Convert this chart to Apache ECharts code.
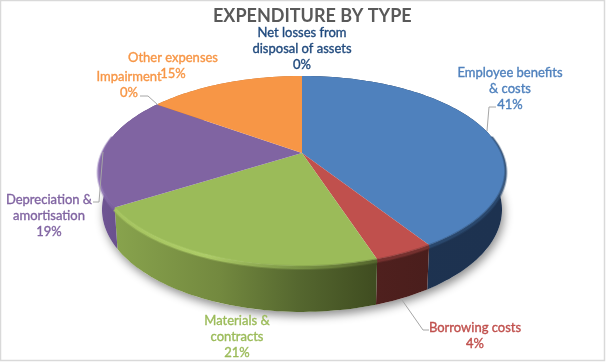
<!DOCTYPE html>
<html>
<head>
<meta charset="utf-8">
<title>Expenditure by type</title>
<style>
  html, body { margin: 0; padding: 0; background: #fff; }
  #chart { width: 606px; height: 362px; }
</style>
<script src="https://cdn.jsdelivr.net/npm/echarts@6/dist/echarts.min.js"></script>
</head>
<body>
<div id="chart"></div>
<script>
// data, clockwise from 12 o'clock
var categories = ['Employee benefits & costs', 'Borrowing costs', 'Materials & contracts', 'Depreciation & amortisation', 'Impairment', 'Other expenses', 'Net losses from disposal of assets']
var percents = [41, 4, 21, 19, 0, 15, 0]

var colorList = ['#4F81BD', '#C0504D', '#9BBB59', '#8064A2', '#F79646', '#F79646', '#1F497D']

// wall colours, left to right
var wallStops = [
  [[0, '#1E3350'], [1, '#1D3250']],
  [[0, '#4F201E'], [1, '#4A1E1C']],
  [[0, '#88A34D'], [0.4, '#73893F'], [0.7, '#55672F'], [1, '#3F4C20']],
  [[0, '#6F5594'], [1, '#5F4980']],
  [[0, '#B87036'], [1, '#B87036']],
  [[0, '#B87036'], [1, '#B87036']],
  [[0, '#1F497D'], [1, '#1F497D']]
]
var rimStops = [
  [[0, '#2B4A70'], [1, '#2B4A70']],
  [[0, '#7A3331'], [1, '#7A3331']],
  [[0, '#A9C862'], [0.35, '#B4D46C'], [0.7, '#7F9A49'], [1, '#58692F']],
  [[0, '#8F74B4'], [1, '#7A5F9E']],
  [[0, '#F79646'], [1, '#F79646']],
  [[0, '#F79646'], [1, '#F79646']],
  [[0, '#1F497D'], [1, '#1F497D']]
]

// label text lines and where they sit
var labelLines = [
  ['Employee benefits', '& costs'],
  ['Borrowing costs'],
  ['Materials &', 'contracts'],
  ['Depreciation &', 'amortisation'],
  ['Impairment'],
  ['Other expenses'],
  ['Net losses from', 'disposal of assets']
]
var labelPos = [[510, 89], [475, 336], [237, 337], [49, 216], [129, 85], [173, 66], [302, 49]]
var leaders = [
  [[487, 131], [489, 107], [496, 107]],
  [[402, 300], [423, 330], [429, 330]],
  null,
  [[103, 152], [99, 202], [93, 202]],
  [[158, 105], [148, 96], [140, 96]],
  null,
  null
]

// perspective of the tilted disc
var cx = 302
var cy = 153
var halfW = 199.4
var halfD = 91.6
var persp = 0.189
var depth = 37.3
var baseScale = 0.985
// rim highlight only runs round the front of the disc
var rimFrom = 0.22
var rimTo = 0.78

var total = percents.reduce(function (a, b) { return a + b }, 0)

function project(frac, lower) {
  var a = frac * Math.PI * 2
  var u = Math.sin(a)
  var v = -Math.cos(a)
  var w = 1 - persp * v
  var s = lower ? baseScale : 1
  return [
    cx + (halfW * s * u) / w,
    cy + (halfD * v) / w + (lower ? depth / w : 0)
  ]
}

function arcPoints(from, to, lower) {
  var n = Math.max(2, Math.ceil((to - from) * 240))
  var pts = []
  for (var i = 0; i <= n; i++) {
    pts.push(project(from + ((to - from) * i) / n, lower))
  }
  return pts
}

function hGradient(pts, stops) {
  var xs = pts.map(function (p) { return p[0] })
  return new echarts.graphic.LinearGradient(Math.min.apply(null, xs), 0, Math.max.apply(null, xs), 0,
    stops.map(function (s) { return { offset: s[0], color: s[1] } }), true)
}

function rimLine(pts, stops, width, opacity, z2) {
  return {
    type: 'polyline',
    z2: z2,
    shape: { points: pts },
    style: { fill: null, stroke: hGradient(pts, stops), lineWidth: width, opacity: opacity, lineCap: 'butt' }
  }
}

function renderSlice(params, api) {
  var idx = params.dataIndex
  var value = api.value(0)
  var before = 0
  for (var i = 0; i < idx; i++) before += percents[i]
  var from = before / total
  var to = (before + value) / total
  var children = []

  // soft shadow below the disc, only once
  if (idx === 0) {
    children.push({
      type: 'polygon',
      z2: 0,
      shape: { points: arcPoints(0, 1, true) },
      style: { fill: '#fff', shadowBlur: 10, shadowColor: 'rgba(0,0,0,0.45)', shadowOffsetX: 2, shadowOffsetY: 4 }
    })
  }

  if (value > 0) {
    var top = arcPoints(from, to, false)
    var bottom = arcPoints(from, to, true)
    children.push({
      type: 'polygon',
      z2: 1,
      shape: { points: top.concat(bottom.slice().reverse()) },
      style: { fill: hGradient(top, wallStops[idx]) }
    })
    children.push({
      type: 'polygon',
      z2: 3,
      shape: { points: [[cx, cy]].concat(top) },
      style: { fill: colorList[idx] }
    })
    // bevel where the top meets the wall
    var rimA = Math.max(from, rimFrom)
    var rimB = Math.min(to, rimTo)
    if (rimB > rimA) {
      var rim = arcPoints(rimA, rimB, false)
      var shifted = rim.map(function (p) { return [p[0], p[1] + 1.5] })
      children.push(rimLine(shifted, rimStops[idx], 5, 0.35, 2))
      children.push(rimLine(shifted, rimStops[idx], 3, 0.8, 2))
      children.push(rimLine(rim, rimStops[idx], 2, 0.4, 4))
    }
  }

  var line = leaders[idx]
  if (line) {
    children.push({
      type: 'polyline',
      z2: 5,
      shape: { points: line },
      style: { fill: null, stroke: '#A6A6A6', lineWidth: 1 }
    })
  }

  children.push({
    type: 'text',
    z2: 6,
    style: {
      text: labelLines[idx].concat(value + '%').join('\n'),
      x: labelPos[idx][0],
      y: labelPos[idx][1],
      align: 'center',
      verticalAlign: 'middle',
      lineHeight: 16,
      fill: colorList[idx],
      stroke: colorList[idx],
      lineWidth: 0.35,
      font: '13px Lato'
    }
  })

  return { type: 'group', children: children }
}

var myChart = echarts.init(document.getElementById('chart'), null, { renderer: 'canvas' })

var option = {
  animation: false,
  backgroundColor: '#fff',
  title: {
    text: 'EXPENDITURE BY TYPE',
    left: 213,
    top: 3,
    padding: 0,
    textStyle: { color: '#595959', fontFamily: 'Lato', fontWeight: 'bold', fontSize: 18, lineHeight: 26 }
  },
  graphic: [{
    type: 'rect',
    z: -1,
    shape: { x: 0.5, y: 0.5, width: 604, height: 360 },
    style: { fill: null, stroke: '#D9D9D9', lineWidth: 1.5 }
  }],
  series: [{
    type: 'custom',
    name: 'Expenditure',
    coordinateSystem: 'none',
    renderItem: renderSlice,
    data: percents.map(function (v, i) { return { name: categories[i], value: [v] } })
  }]
}

myChart.setOption(option)
</script>
</body>
</html>
